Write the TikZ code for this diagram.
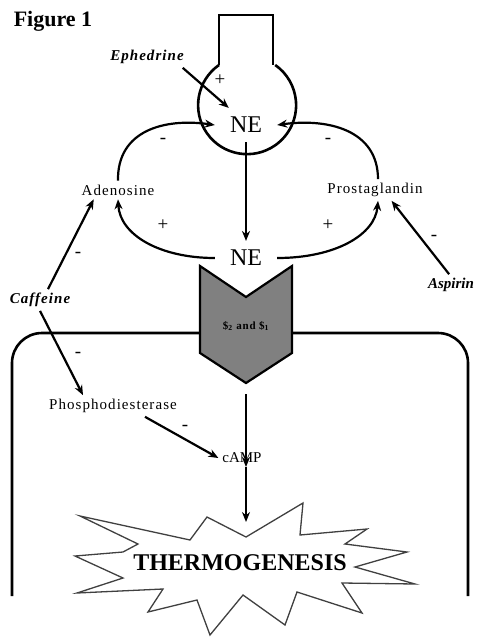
\documentclass[tikz,border=0pt]{standalone}
\usepackage{fontspec}
\setmainfont{Liberation Serif}
\newfontfamily\spaced[LetterSpace=7]{Liberation Serif}
\usetikzlibrary{arrows.meta}
\tikzset{
  lbl/.style={font=\fontsize{15}{15}\selectfont\spaced, inner sep=1pt, outer sep=3pt},
  ital/.style={font=\fontsize{15}{15}\selectfont\spaced\itshape\bfseries, inner sep=1pt, outer sep=3pt},
  bigne/.style={font=\fontsize{24}{24}\selectfont, inner xsep=15pt, inner ysep=9pt},
  sgn/.style={font=\fontsize{19}{19}\selectfont, inner sep=0pt},
  arr/.style={line width=2.2pt, -{Stealth[length=10pt,width=8pt]}},
  thick2/.style={line width=2.6pt},
}
\begin{document}
\begin{tikzpicture}[x=1pt,y=-1pt]
\useasboundingbox (0,0) rectangle (477,638);
\fill[white] (0,0) rectangle (477,638);
% title
\node[font=\fontsize{22}{22}\selectfont\bfseries, inner sep=0pt] (fig) at (53,21) {Figure 1};
% neuron terminal
\draw[thick2, line join=miter] (219,65) -- (219,15) -- (273,15) -- (273,65);
\draw[thick2] (219,65) arc[start angle=235, end angle=-55, radius=49];
\node[bigne] (ne1) at (246,125) {NE};
\node[bigne] (ne2) at (246,258) {NE};
% labels
\node[ital] (eph) at (147,57) {Ephedrine};
\node[lbl] (ad) at (118,190) {Adenosine};
\node[lbl] (pg) at (375,190) {Prostaglandin};
\node[ital] (caf) at (40,300) {Caffeine};
\node[ital, font=\fontsize{15}{15}\selectfont\itshape\bfseries, anchor=east, outer sep=0pt] (asp) at (475,285) {Aspirin};
\node[lbl] (phos) at (113,406) {Phosphodiesterase};
\node[lbl, font=\fontsize{15}{15}\selectfont] (camp) at (242,458) {cAMP};
% connectors
\draw[arr] ([xshift=-5pt]eph.south east) -- ([xshift=14pt]ne1.north west);
\draw[arr] (ad.north) .. controls (117,130) and (165,118) .. (ne1.west);
\draw[arr] ([xshift=3pt]pg.north) .. controls (378,130) and (328,118) .. (ne1.east);
\draw[arr] (ne1.south) -- (ne2.north);
\draw[arr] (ne2.west) .. controls (160,258) and (120,235) .. (ad.south);
\draw[arr] (ne2.east) .. controls (335,258) and (375,235) .. ([xshift=3pt]pg.south);
\draw[arr] ([xshift=8pt]caf.north) -- ([xshift=16pt]ad.south west);
\draw[arr] ([xshift=22pt,yshift=3pt]asp.north west) -- ([xshift=-35pt]pg.south east);
\draw[arr] (caf.south) -- ([xshift=-30pt]phos.north);
\draw[arr] ([xshift=32pt]phos.south) -- (camp.west);
% signs
\node[sgn] (s1) at (220,80) {+};
\node[sgn] (s2) at (163,141) {-};
\node[sgn] (s3) at (328,141) {-};
\node[sgn] (s4) at (163,225) {+};
\node[sgn] (s5) at (328,225) {+};
\node[sgn] (s6) at (78,255) {-};
\node[sgn] (s7) at (78,355) {-};
\node[sgn] (s8) at (434,238) {-};
\node[sgn] (s9) at (185,428) {-};
% cell membrane
\draw[thick2, rounded corners=30pt] (200,333) -- (12,333) -- (12,596);
\draw[thick2, rounded corners=30pt] (292,333) -- (468,333) -- (468,596);
% receptor
\draw[line width=2.2pt, fill=black!50, line join=miter] (200,266) -- (246,297) -- (292,266) -- (292,353) -- (246,383) -- (200,353) -- cycle;
\node[font=\fontsize{11}{11}\selectfont\spaced\bfseries, inner sep=0pt] (rec) at (246,326) {\$\textsubscript{2} and \$\textsubscript{1}};
\coordinate (recb) at (246,394);
\coordinate (bursttop) at (246,522);
\draw[arr] (recb) -- (camp.south -| recb);
\draw[arr] (camp.south -| bursttop) -- (bursttop);
% starburst
\draw[line width=1.3pt, black!75, line join=miter] (80,516) -- (190,540) -- (207,517) -- (246,537) -- (303,503) -- (300,535) -- (367,529) -- (345,544) -- (407,552) -- (355,567) -- (415,584) -- (342,583) -- (362,613) -- (297,592) -- (285,625) -- (243,595) -- (210,635) -- (197,600) -- (148,612) -- (163,589) -- (77,593) -- (123,578) -- (75,556) -- (123,552) -- (138,544) -- cycle;
\node[font=\fontsize{24}{24}\selectfont\bfseries, inner sep=0pt] (thermo) at (240,563) {THERMOGENESIS};
\end{tikzpicture}
\end{document}
